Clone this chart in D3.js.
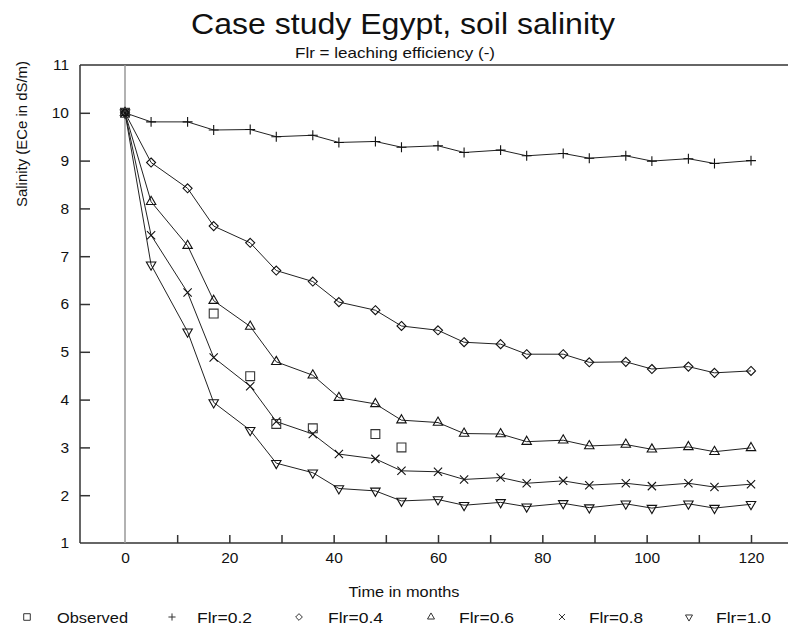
<!DOCTYPE html>
<html>
<head>
<meta charset="utf-8">
<script src="https://cdn.jsdelivr.net/npm/d3@7/dist/d3.min.js"></script>
<style>
  html, body { margin: 0; padding: 0; background: #fff; }
  svg { display: block; font-family: "Liberation Sans", Arial, sans-serif; }
</style>
</head>
<body>
<svg id="chart" width="788" height="629"></svg>
<script>
// ---- data ----
const months = [0, 5, 12, 17, 24, 29, 36, 41, 48, 53, 60, 65, 72, 77, 84, 89, 96, 101, 108, 113, 120];
const flr02 = [10, 9.81, 9.81, 9.64, 9.65, 9.50, 9.53, 9.38, 9.40, 9.28, 9.31, 9.17, 9.22, 9.10, 9.15, 9.05, 9.10, 8.99, 9.04, 8.94, 9.00];
const flr04 = [10, 8.96, 8.42, 7.63, 7.28, 6.70, 6.47, 6.04, 5.87, 5.54, 5.45, 5.20, 5.16, 4.95, 4.95, 4.78, 4.79, 4.64, 4.69, 4.56, 4.60];
const flr06 = [10, 8.14, 7.22, 6.07, 5.53, 4.79, 4.51, 4.04, 3.91, 3.57, 3.52, 3.29, 3.28, 3.12, 3.15, 3.03, 3.06, 2.96, 3.01, 2.91, 2.99];
const flr08 = [10, 7.44, 6.24, 4.88, 4.28, 3.54, 3.28, 2.86, 2.76, 2.51, 2.49, 2.33, 2.37, 2.25, 2.30, 2.21, 2.25, 2.19, 2.25, 2.17, 2.23];
const flr10 = [10, 6.82, 5.42, 3.94, 3.36, 2.67, 2.47, 2.14, 2.09, 1.88, 1.91, 1.79, 1.85, 1.76, 1.83, 1.74, 1.82, 1.73, 1.82, 1.73, 1.81];
const obsMonths = [0, 17, 24, 29, 36, 48, 53];
const obsValues = [10, 5.8, 4.49, 3.49, 3.40, 3.28, 3.00];
const seriesNames = ["Flr=0.2", "Flr=0.4", "Flr=0.6", "Flr=0.8", "Flr=1.0"];
const xTickLabels = [0, 20, 40, 60, 80, 100, 120];
const xMinorTicks = [10, 20, 30, 40, 50, 60, 70, 80, 90, 100, 110, 120];
const yTickLabels = [1, 2, 3, 4, 5, 6, 7, 8, 9, 10, 11];

const titleText = "Case study Egypt, soil salinity";
const subtitleText = "Flr = leaching efficiency (-)";
const xLabel = "Time in months";
const yLabel = "Salinity (ECe in dS/m)";

// ---- layout ----
const svg = d3.select("#chart");
const plotLeft = 80, plotTop = 65, plotBottom = 543, plotRight = 788;
const x = d3.scaleLinear().domain([0, 120]).range([125, 751]);
const y = d3.scaleLinear().domain([1, 11]).range([plotBottom, plotTop]);
const ink = "#222";

// titles
svg.append("text").attr("x", 403).attr("y", 33.5).attr("text-anchor", "middle")
  .attr("font-size", 29).attr("fill", "#111")
  .attr("textLength", 424).attr("lengthAdjust", "spacingAndGlyphs").text(titleText);
svg.append("text").attr("x", 395).attr("y", 57.5).attr("text-anchor", "middle")
  .attr("font-size", 14.5).attr("fill", "#111")
  .attr("textLength", 200).attr("lengthAdjust", "spacingAndGlyphs").text(subtitleText);

// frame: top line, left axis, bottom axis
svg.append("line").attr("x1", plotLeft).attr("x2", plotRight).attr("y1", plotTop).attr("y2", plotTop)
  .attr("stroke", "#333").attr("stroke-width", 1.5);
svg.append("line").attr("x1", plotLeft).attr("x2", plotLeft).attr("y1", plotTop).attr("y2", plotBottom)
  .attr("stroke", "#333").attr("stroke-width", 1.5);
svg.append("line").attr("x1", plotLeft).attr("x2", plotRight).attr("y1", plotBottom).attr("y2", plotBottom)
  .attr("stroke", "#333").attr("stroke-width", 1.5);

// zero line
svg.append("line").attr("x1", x(0)).attr("x2", x(0)).attr("y1", plotTop).attr("y2", plotBottom)
  .attr("stroke", "#999").attr("stroke-width", 1.5);

// y axis ticks (inward) and labels
const yAxis = d3.axisLeft(y).tickValues(yTickLabels).tickSize(-10).tickPadding(11).tickFormat(d3.format("d"));
const gy = svg.append("g").attr("transform", `translate(${plotLeft},0)`).call(yAxis);
gy.select(".domain").remove();
gy.selectAll(".tick line").attr("stroke", "#333").attr("stroke-width", 1.5)
  .filter(d => d === 1 || d === 11).remove();
gy.selectAll(".tick text").attr("font-size", 15.5).attr("fill", "#111")
  .attr("font-family", "Liberation Sans, Arial, sans-serif");

// x axis ticks (inward) and labels
const xAxisMinor = d3.axisBottom(x).tickValues(xMinorTicks).tickSize(-8).tickFormat("");
const gxm = svg.append("g").attr("transform", `translate(0,${plotBottom})`).call(xAxisMinor);
gxm.select(".domain").remove();
gxm.selectAll(".tick line").attr("stroke", "#333").attr("stroke-width", 1.5);
const xAxis = d3.axisBottom(x).tickValues(xTickLabels).tickSize(0).tickPadding(9).tickFormat(d3.format("d"));
const gx = svg.append("g").attr("transform", `translate(0,${plotBottom})`).call(xAxis);
gx.select(".domain").remove();
gx.selectAll(".tick text").attr("font-size", 15.5).attr("fill", "#111")
  .attr("font-family", "Liberation Sans, Arial, sans-serif");

// axis titles
svg.append("text").attr("x", 404).attr("y", 597).attr("text-anchor", "middle")
  .attr("font-size", 14.5).attr("fill", "#111")
  .attr("textLength", 111).attr("lengthAdjust", "spacingAndGlyphs").text(xLabel);
svg.append("text").attr("transform", "translate(27,134) rotate(-90)").attr("text-anchor", "middle")
  .attr("font-size", 14.5).attr("fill", "#111")
  .attr("textLength", 146).attr("lengthAdjust", "spacingAndGlyphs").text(yLabel);

// symbols
const sym = {
  obs:  { type: d3.symbolSquare2, size: 100, rot: 0 },
  f02:  { type: d3.symbolPlus, size: 34, rot: 0 },
  f04:  { type: d3.symbolDiamond2, size: 52, rot: 0 },
  f06:  { type: d3.symbolTriangle2, size: 64, rot: 0 },
  f08:  { type: d3.symbolTimes, size: 46, rot: 0 },
  f10:  { type: d3.symbolTriangle2, size: 64, rot: 180 }
};
const keys = ["f02", "f04", "f06", "f08", "f10"];
const allSeries = [flr02, flr04, flr06, flr08, flr10];

const line = d3.line().x(d => x(d[0])).y(d => y(d[1]));

allSeries.forEach((vals, i) => {
  const pts = months.map((m, j) => [m, vals[j]]);
  svg.append("path").datum(pts).attr("d", line).attr("fill", "none")
    .attr("stroke", ink).attr("stroke-width", 1);
});
allSeries.forEach((vals, i) => {
  const s = sym[keys[i]];
  const pts = months.map((m, j) => [m, vals[j]]);
  svg.append("g").selectAll("path").data(pts).join("path")
    .attr("transform", d => `translate(${x(d[0])},${y(d[1])}) rotate(${s.rot})`)
    .attr("d", d3.symbol(s.type, s.size)).attr("fill", "none")
    .attr("stroke", "#111").attr("stroke-width", 1.1);
});
// observed
svg.append("g").selectAll("path").data(obsMonths.map((m, j) => [m, obsValues[j]])).join("path")
  .attr("transform", d => `translate(${x(d[0])},${y(d[1])})`)
  .attr("d", d3.symbol(sym.obs.type, sym.obs.size)).attr("fill", "none")
  .attr("stroke", "#333").attr("stroke-width", 1.1);

// legend
const legendItems = [
  { key: "obs", label: "Observed", mx: 27, tx: 57, w: 71 },
  { key: "f02", label: seriesNames[0], mx: 172, tx: 197, w: 55 },
  { key: "f04", label: seriesNames[1], mx: 299, tx: 328, w: 55 },
  { key: "f06", label: seriesNames[2], mx: 431, tx: 459, w: 55 },
  { key: "f08", label: seriesNames[3], mx: 562, tx: 589, w: 54 },
  { key: "f10", label: seriesNames[4], mx: 689, tx: 716, w: 55 }
];
const lg = svg.append("g");
legendItems.forEach(it => {
  const s = sym[it.key];
  lg.append("path").attr("transform", `translate(${it.mx},617) rotate(${s.rot})`)
    .attr("d", d3.symbol(s.type, s.size * 0.55)).attr("fill", "none")
    .attr("stroke", "#333").attr("stroke-width", 1);
  lg.append("text").attr("x", it.tx).attr("y", 622.5).attr("font-size", 15.5)
    .attr("fill", "#111").attr("textLength", it.w).attr("lengthAdjust", "spacingAndGlyphs")
    .text(it.label);
});
</script>
</body>
</html>
